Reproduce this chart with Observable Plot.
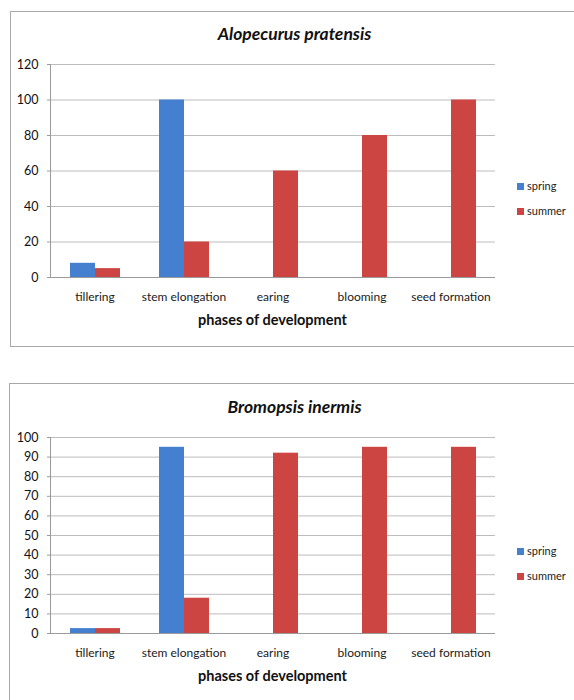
<!DOCTYPE html>
<html>
<head>
<meta charset="utf-8">
<script src="https://cdn.jsdelivr.net/npm/d3@7"></script>
<script src="https://cdn.jsdelivr.net/npm/@observablehq/plot@0.6"></script>
<style>
  body { margin: 0; background: #fff; font-family: Lato, sans-serif; }
  #page { position: relative; width: 574px; height: 700px; overflow: hidden; }
  .panel { position: absolute; border: 1px solid #a8a8a8; box-sizing: border-box; }
  .chart { position: absolute; left: 0; }
  .title { position: absolute; left: 0; width: 589px; text-align: center;
           font: italic bold 17.5px Lato, sans-serif; line-height: 20px; color: #111; }
  .xlabel { position: absolute; left: 0; width: 545px; text-align: center;
            font: bold 14.5px Lato, sans-serif; line-height: 18px; color: #111; }
  .key { position: absolute; left: 517px; font: 11px Lato, sans-serif; line-height: 12px;
         color: #222; white-space: nowrap; }
  .key span { display: inline-block; width: 7px; height: 7px; margin-right: 3px; vertical-align: 0px; }
</style>
</head>
<body>
<div id="page"></div>
<script>
// Phases of development and seasons shared by both species
const phases = ["tillering", "stem elongation", "earing", "blooming", "seed formation"];
const seasons = ["spring", "summer"];
const seasonColors = ["#4480cf", "#cc4542"];

// Alopecurus pratensis
const alopecurusSpring = [8, 100, 0, 0, 0];
const alopecurusSummer = [5, 20, 60, 80, 100];
const alopecurusTicks = [0, 20, 40, 60, 80, 100, 120];

// Bromopsis inermis
const bromopsisSpring = [2.5, 95, 0, 0, 0];
const bromopsisSummer = [2.5, 18, 92, 95, 95];
const bromopsisTicks = [0, 10, 20, 30, 40, 50, 60, 70, 80, 90, 100];

const page = document.getElementById("page");

function addEl(cls, style, html) {
  const el = document.createElement("div");
  el.className = cls;
  Object.assign(el.style, style);
  if (html != null) el.innerHTML = html;
  page.appendChild(el);
  return el;
}

function panel({title, spring, summer, ticks, top, height, marginTop, marginBottom, marginLeft,
                box, titleTop, xlabelTop, keyTop}) {
  addEl("panel", box);

  const rows = phases.flatMap((phase, i) => [
    {phase, season: "spring", value: spring[i]},
    {phase, season: "summer", value: summer[i]}
  ]);

  const chart = Plot.plot({
    width: 574,
    height,
    marginLeft,
    marginRight: 78,
    marginTop,
    marginBottom,
    style: {background: "transparent", fontFamily: "Lato, sans-serif", overflow: "visible"},
    fx: {domain: phases, padding: 0, label: null},
    x: {domain: seasons, paddingInner: 0, paddingOuter: 0.75, axis: null},
    y: {domain: [0, ticks[ticks.length - 1]], axis: null},
    color: {domain: seasons, range: seasonColors},
    marks: [
      Plot.gridY(ticks, {stroke: "#bcbcbc", strokeOpacity: 1}),
      Plot.axisY(ticks, {tickSize: 3, tickPadding: 9, fontSize: 12.5, stroke: "#9a9a9a",
                         fill: "#111", label: null}),
      Plot.frame({anchor: "left", facetAnchor: "left", stroke: "#9a9a9a"}),
      Plot.barY(rows, {fx: "phase", x: "season", y: "value", fill: "season"}),
      Plot.ruleY([0], {stroke: "#9a9a9a"}),
      Plot.axisFx({anchor: "bottom", tickSize: 0, tickPadding: 15, fontSize: 12,
                   fill: "#1a1a1a", label: null})
    ]
  });
  chart.classList.add("chart");
  chart.style.top = top + "px";
  page.appendChild(chart);

  addEl("title", {top: titleTop + "px"}, title);
  addEl("xlabel", {top: xlabelTop + "px"}, "phases of development");
  seasons.forEach((s, i) => {
    addEl("key", {top: (keyTop + i * 25) + "px"},
      `<span style="background:${seasonColors[i]}"></span>${s}`);
  });
}

panel({
  title: "Alopecurus pratensis",
  spring: alopecurusSpring, summer: alopecurusSummer, ticks: alopecurusTicks,
  top: 0, height: 350, marginTop: 64, marginBottom: 73, marginLeft: 49,
  box: {left: "10px", top: "11px", width: "600px", height: "336px"},
  titleTop: 24, xlabelTop: 311, keyTop: 180
});

panel({
  title: "Bromopsis inermis",
  spring: bromopsisSpring, summer: bromopsisSummer, ticks: bromopsisTicks,
  top: 372, height: 328, marginTop: 65, marginBottom: 67, marginLeft: 48,
  box: {left: "9px", top: "383px", width: "600px", height: "400px"},
  titleTop: 397, xlabelTop: 667, keyTop: 545
});
</script>
</body>
</html>
